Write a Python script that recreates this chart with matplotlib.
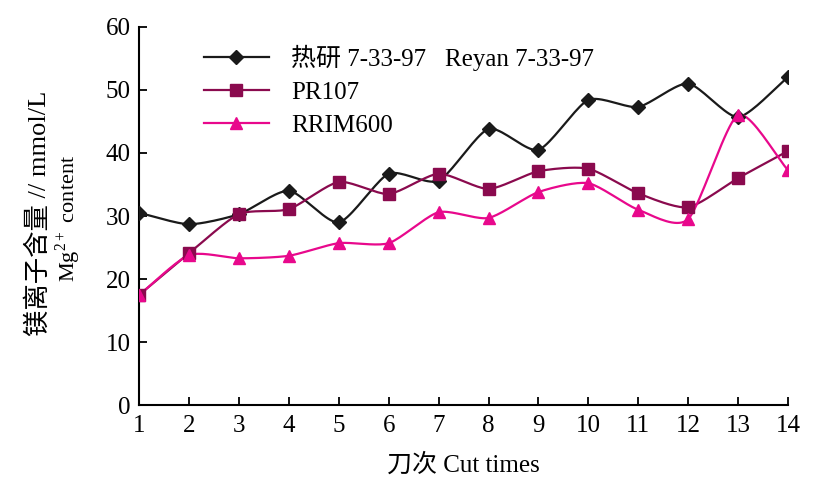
import numpy as np
import matplotlib
matplotlib.use("Agg")
import matplotlib.pyplot as plt

plt.rcParams['font.family'] = ['Liberation Serif', 'Noto Sans CJK SC', 'DejaVu Sans']
plt.rcParams['mathtext.fontset'] = 'custom'
plt.rcParams['mathtext.rm'] = 'Liberation Serif'

cuts = list(range(1, 15))
reyan = [30.5, 28.7, 30.3, 34.0, 29.0, 36.7, 35.6, 43.8, 40.5, 48.4, 47.3, 51.0, 45.7, 52.0]
pr107 = [17.5, 24.1, 30.3, 31.1, 35.4, 33.5, 36.7, 34.3, 37.1, 37.5, 33.6, 31.4, 36.0, 40.3]
rrim600 = [17.5, 23.8, 23.3, 23.7, 25.7, 25.7, 30.6, 29.7, 33.8, 35.2, 31.0, 29.5, 46.0, 37.3]
labels = ['热研 7-33-97   Reyan 7-33-97', 'PR107', 'RRIM600']
xticks = list(range(1, 15))
yticks = [0, 10, 20, 30, 40, 50, 60]


def smooth(x, y, n=20):
    x = np.asarray(x, float); y = np.asarray(y, float)
    P = np.column_stack([x, y])
    P = np.vstack([P[0] - (P[1] - P[0]), P, P[-1] + (P[-1] - P[-2])])
    out = []
    for i in range(1, len(P) - 2):
        p0, p1, p2, p3 = P[i - 1], P[i], P[i + 1], P[i + 2]
        t = np.linspace(0, 1, n, endpoint=False)[:, None]
        m1 = (p2 - p0) / 2 * 0.7
        m2 = (p3 - p1) / 2 * 0.7
        h00 = 2 * t**3 - 3 * t**2 + 1
        h10 = t**3 - 2 * t**2 + t
        h01 = -2 * t**3 + 3 * t**2
        h11 = t**3 - t**2
        out.append(h00 * p1 + h10 * m1 + h01 * p2 + h11 * m2)
    out.append(P[-2][None, :])
    S = np.vstack(out)
    return S[:, 0], S[:, 1]


fig = plt.figure(figsize=(8.19, 4.79), dpi=100)
ax = fig.add_axes([0.170, 0.154, 0.792, 0.790])

series = [
    (reyan, '#1a1a1a', 'D', 7),
    (pr107, '#8a0a4e', 's', 8),
    (rrim600, '#e8088c', '^', 9),
]
for (vals, col, mk, ms), lab in zip(series, labels):
    sx, sy = smooth(cuts, vals)
    ax.plot(sx, sy, color=col, lw=1.6, zorder=2)
    ax.plot(cuts, vals, linestyle='none', marker=mk, color=col, ms=ms, zorder=3)
    ax.plot([], [], color=col, lw=1.6, marker=mk, ms=ms, label=lab)

ax.set_xlim(1, 14)
ax.set_ylim(0, 60)
ax.set_xticks(xticks)
ax.set_yticks(yticks)
ax.spines['top'].set_visible(False)
ax.spines['right'].set_visible(False)
for s in ['left', 'bottom']:
    ax.spines[s].set_linewidth(1.5)
ax.tick_params(direction='in', length=6, width=1.3, labelsize=18)
ax.tick_params(axis='x', pad=7)
ax.tick_params(axis='y', pad=6)

ax.set_xlabel('刀次 Cut times', fontsize=18, labelpad=12)
fig.text(0.047, 0.555, '镁离子含量 // mmol/L', rotation=90, fontsize=19,
         ha='center', va='center')
fig.text(0.083, 0.545, 'Mg$^{2+}$ content', rotation=90, fontsize=16,
         ha='center', va='center')

leg = ax.legend(loc='upper left', bbox_to_anchor=(0.065, 1.013), frameon=False,
                fontsize=18, handlelength=2.6, labelspacing=0.42, handletextpad=0.9)

fig.savefig('out.png', dpi=100)
